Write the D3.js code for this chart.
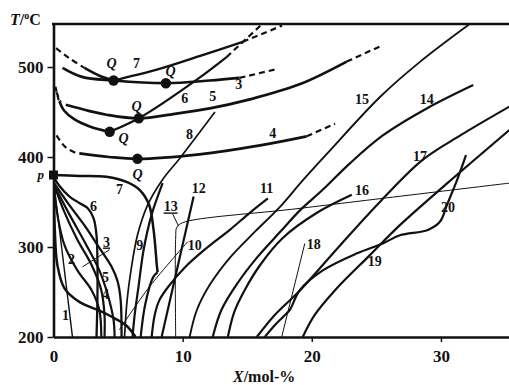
<!DOCTYPE html>
<html>
<head>
<meta charset="utf-8">
<script src="https://cdn.jsdelivr.net/npm/d3@7"></script>
<style>
  body { margin: 0; background: #fff; }
  text { font-family: "Liberation Serif", "Times New Roman", serif; font-weight: bold; fill: #111; }
</style>
</head>
<body>
<div id="container"></div>
<script>
const width = 509, height = 385;

// axes
const xTicks = [0, 10, 20, 30];
const yTicks = [200, 300, 400, 500];

// curves: [X mol-%, T °C]
// upper isotherm-like lines and the Q points
const c7Dash   = [[0.2,521],[1.2,510],[2.4,499]];
const c7a      = [[2.4,499],[3.6,490],[4.65,485]];
const c7b      = [[4.65,485],[8.0,497],[11.3,512],[14.65,528]];
const c7bDash  = [[14.65,528],[17.7,546]];
const c3       = [[0.7,499],[2.2,489],[4.65,485],[8.7,482],[12.1,485],[14.4,488]];
const c3Dash   = [[14.4,488],[17.4,498]];
const c6Dash   = [[0.15,478],[0.4,463]];
const c6a      = [[0.45,462],[0.8,452],[1.6,442],[2.8,434],[4.35,428]];
const c6b      = [[4.35,428],[6.6,443],[11.1,486],[13.4,511]];
const c6bDash  = [[13.4,511],[16.1,547]];
const c5Dash   = [[0.23,472],[0.55,461]];
const c5       = [[0.95,458],[2.8,451],[4.1,447],[6.6,443],[9.4,448],[12.1,454],[15.2,464],[19.1,481],[22.7,506]];
const c5Dash2  = [[22.7,506],[25.3,523]];
const c4Dash   = [[0.23,424],[0.93,411],[1.8,404]];
const c4       = [[2.0,404],[4.3,400],[6.5,398],[11.3,403],[16.0,413],[19.6,423]];
const c4Dash2  = [[19.6,423],[21.8,437]];
const qPoints  = [[4.65,485],[8.7,482],[6.6,443],[4.35,428],[6.5,398]];

// curves starting at p and the low-X fan
const pPoint = [0, 380];
const cP7  = [[0,380],[2.0,379],[4.1,378],[5.7,372],[6.7,363],[7.4,347],[7.75,319],[8.0,280],[8.06,272]];
const cP7b = [[8.06,272],[7.7,266],[7.1,236],[6.75,200]];
const c1   = [[0,374],[1.47,200]];
const cA   = [[0,374],[0.1,319],[0.3,280],[0.85,254],[2.0,239],[3.6,229],[4.7,221],[5.7,212],[6.35,200]];
const c6L  = [[0,378],[0.45,368],[1.24,356],[2.0,349],[2.65,343],[3.1,332],[3.33,313],[3.4,286],[3.4,241],[3.33,200]];
const c2   = [[0,371],[0.3,336],[0.85,302],[1.85,274],[2.95,252],[3.55,230],[3.7,200]];
const c3L  = [[0,371],[0.78,341],[1.85,308],[2.95,280],[3.7,252],[3.95,224],[3.95,200]];
const c4L  = [[0,370],[1.24,336],[2.55,302],[3.55,274],[4.2,247],[4.65,219],[4.73,200]];
const c5L  = [[0,372],[1.1,349],[2.4,324],[3.55,299],[4.5,278],[4.96,262],[5.2,241],[5.27,200]];

// middle and right curves
const c8   = [[12.5,450],[9.8,399],[8.4,374],[7.3,347],[6.5,313],[6.0,274],[5.7,241],[5.5,200]];
const c9   = [[8.45,371],[7.6,336],[6.98,297],[6.6,258],[6.28,224],[6.12,200]];
const c10  = [[5.1,208],[7.44,256],[10.4,306]];
const c11  = [[7.6,200],[7.83,224],[8.2,241],[9.0,258],[10.15,277],[11.7,297],[13.65,319],[15.2,338],[16.6,354]];
const c12  = [[10.85,356],[8.37,200]];
const c13  = [[9.46,200],[9.46,310],[9.55,322],[10.0,327],[19.1,343],[35.3,371]];
const c14  = [[12.33,200],[13.0,230],[14.26,260],[15.8,289],[17.5,316],[19.1,341],[20.8,363],[22.95,393],[25.5,424],[28.9,454],[32.5,480]];
const c15  = [[10.54,200],[11.1,230],[12.1,258],[13.65,288],[15.6,317],[17.5,344],[19.3,374],[21.2,404],[25.3,467],[28.4,506],[32.25,548]];
const c16  = [[13.5,200],[14.0,228],[14.8,252],[16.0,280],[17.75,310],[20.4,338],[23.1,358]];
const c17  = [[15.74,200],[17.1,224],[19.1,252],[22.2,302],[25.4,352],[28.6,397],[31.5,424],[35.3,456]];
const c18  = [[17.67,200],[19.46,304]];
const c19  = [[19.3,200],[20.2,224],[21.8,252],[24.5,291],[26.8,324],[30.5,371],[35.3,430]];
const c20  = [[31.94,402],[31.24,374],[30.47,347],[29.92,328],[28.99,319],[26.82,313],[25.5,304],[23.5,293],[20.85,274],[19.07,252],[18.29,230],[17.75,222],[17.13,213],[16.36,200]];

// curve labels: text, X, T
const labels = [
  ["Q",4.5,504],["7",6.43,504],["Q",9.07,496],["6",10.16,466],["5",12.33,468],["3",14.34,481],
  ["Q",6.43,457],["Q",5.43,421],["8",10.54,426],["4",16.98,427],["Q",6.51,381],["7",5.12,364],
  ["6",3.1,346],["12",11.24,366],["13",9.07,345],["11",16.51,366],["15",23.88,464],["14",28.9,464],
  ["17",28.37,401],["16",23.88,363],["3",4.11,306],["2",1.4,287],["9",6.67,302],["10",10.93,302],
  ["5",4.03,267],["4",4.03,248],["1",0.93,224],["18",20.16,303],["20",30.54,344],["19",24.88,284]
];
const underlinedIdx = [14, 20];
const leader13 = [[9.22,337],[9.69,323]];
const leader3  = [[4.34,297],[2.25,278]];

const x = d3.scaleLinear().domain([0, 35.27]).range([53.5, 509]);
const y = d3.scaleLinear().domain([200, 547.8]).range([337, 24]);

const svg = d3.select("#container")
  .append("svg")
    .attr("width", width)
    .attr("height", height);

svg.append("defs").append("clipPath").attr("id","plot")
  .append("rect").attr("x",53).attr("y",24).attr("width",456).attr("height",313);

const line = d3.line().x(d => x(d[0])).y(d => y(d[1])).curve(d3.curveCatmullRom.alpha(0.5));

const series = [
  [c7Dash,2.2,"6,4"],[c7a,2.6],[c7b,2.4],[c7bDash,2.2,"6,4"],
  [c3,2.7],[c3Dash,2.2,"6,4"],
  [c6Dash,2.2,"5,4"],[c6a,2.6],[c6b,2.2],[c6bDash,2.2,"6,4"],
  [c5Dash,2.2,"5,4"],[c5,2.7],[c5Dash2,2.2,"6,4"],
  [c4Dash,2.2,"6,4"],[c4,2.7],[c4Dash2,2.2,"6,4"],
  [cP7,2.5],[cP7b,2.2],[c1,1.4],[cA,2.5],[c6L,2.3],[c2,2.2],[c3L,2.2],[c4L,2.2],[c5L,2.3],
  [c8,1.7],[c9,2.2],[c10,1],[c11,2.2],[c12,2.2],[c13,1],[c14,2.2],[c15,1.9],[c16,2.2],[c17,2.2],
  [c18,1],[c19,2.2],[c20,2.2]
];

svg.append("g")
    .attr("clip-path","url(#plot)")
    .attr("fill","none")
    .attr("stroke","#111")
    .attr("stroke-linejoin","round")
  .selectAll("path")
  .data(series)
  .join("path")
    .attr("d", d => line(d[0]))
    .attr("stroke-width", d => d[1])
    .attr("stroke-dasharray", d => d[2] || null);

svg.append("g").attr("stroke","#111").attr("stroke-width",1)
  .selectAll("path").data([leader13, leader3]).join("path")
    .attr("d", d3.line().x(d => x(d[0])).y(d => y(d[1])));

svg.append("g").selectAll("circle").data(qPoints).join("circle")
  .attr("cx", d => x(d[0])).attr("cy", d => y(d[1])).attr("r", 5.2).attr("fill","#111");

svg.append("rect")
  .attr("x", x(pPoint[0]) - 4.5).attr("y", y(pPoint[1]) - 4.5)
  .attr("width", 9).attr("height", 9).attr("fill","#111");

svg.append("text").attr("x", 44).attr("y", y(pPoint[1]) + 4)
  .attr("text-anchor","end").style("font-style","italic").style("font-size","13px").text("p");

svg.append("g").selectAll("text").data(labels).join("text")
  .attr("x", d => x(d[1])).attr("y", d => y(d[2]))
  .attr("text-anchor","middle").attr("dy","0.35em")
  .style("font-size","14px")
  .style("font-style", d => d[0] === "Q" ? "italic" : null)
  .style("text-decoration", (d, i) => underlinedIdx.includes(i) ? "underline" : null)
  .text(d => d[0]);

// axes
const gy = svg.append("g").attr("transform","translate(53.5,0)")
  .call(d3.axisLeft(y).tickValues(yTicks).tickSize(6).tickSizeOuter(0).tickPadding(4));
const gx = svg.append("g").attr("transform","translate(0,337)")
  .call(d3.axisBottom(x).tickValues(xTicks).tickSize(5).tickSizeOuter(0).tickPadding(8));
[gy, gx].forEach(g => {
  g.select(".domain").attr("stroke","#111").attr("stroke-width",2.6);
  g.selectAll(".tick line").attr("stroke","#111").attr("stroke-width",1.5);
  g.selectAll(".tick text").attr("fill","#111")
    .style("font-family","'Liberation Serif', serif").style("font-weight","bold").style("font-size","17px");
});
gx.select(".tick line").remove();

svg.append("line").attr("x1",52).attr("x2",509).attr("y1",24).attr("y2",24)
  .attr("stroke","#111").attr("stroke-width",2.4);

const ty = svg.append("text").attr("x", 10).attr("y", 25).style("font-size","16px");
ty.append("tspan").style("font-style","italic").text("T");
ty.append("tspan").text("/");
ty.append("tspan").attr("dy", -6).style("font-size","10px").text("o");
ty.append("tspan").attr("dy", 6).text("C");

const tx = svg.append("text").attr("x", 233).attr("y", 382).style("font-size","16px");
tx.append("tspan").style("font-style","italic").text("X");
tx.append("tspan").text("/mol-%");
</script>
</body>
</html>
